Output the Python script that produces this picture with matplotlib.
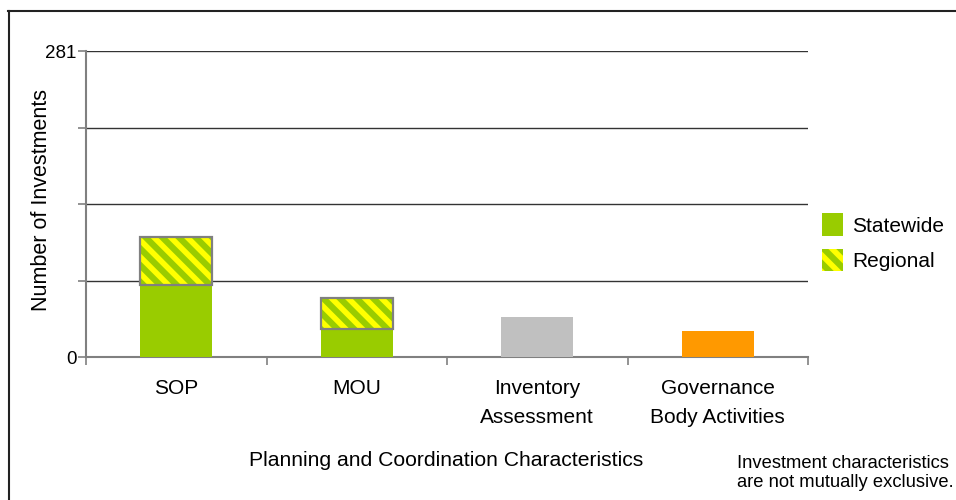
import matplotlib
matplotlib.use("Agg")
import matplotlib.pyplot as plt
from matplotlib.patches import Patch
from matplotlib.lines import Line2D
import numpy as np

plt.rcParams['font.family'] = ['Liberation Sans', 'DejaVu Sans']
plt.rcParams['hatch.linewidth'] = 4.0

categories = ["SOP", "MOU", "Inventory\nAssessment", "Governance\nBody Activities"]
base_values = [66, 26, 37, 24]          # Statewide for SOP/MOU; single totals for others
regional = [44, 28, 0, 0]
base_colors = ["#99CC00", "#99CC00", "#C0C0C0", "#FF9900"]
y_max = 281
y_ticklabels = ["0", "", "", "", "281"]
series_names = ["Statewide", "Regional"]

GREEN = "#99CC00"
YELLOW = "#FFFF00"
HATCH = '\\\\'

fig = plt.figure(figsize=(9.56, 5.0), dpi=100)
ax = fig.add_axes([86/956, 1-357/500, (808-86)/956, (357-51)/500])

x = np.arange(len(categories))
w = 0.4
ax.bar(x, base_values, width=w, color=base_colors, linewidth=0, zorder=3)
reg = np.array(regional, dtype=float)
mask = reg > 0
ax.bar(x[mask], reg[mask], width=w, bottom=np.array(base_values)[mask],
       color=GREEN, edgecolor=YELLOW, hatch=HATCH, linewidth=0, zorder=3)
ax.bar(x[mask], reg[mask], width=w, bottom=np.array(base_values)[mask],
       fill=False, edgecolor="#808080", linewidth=1.6, zorder=4)

ax.set_xlim(-0.5, len(categories) - 0.5)
ax.set_ylim(0, y_max)
yt = np.linspace(0, y_max, 5)
ax.set_yticks(yt)
ax.set_yticklabels(y_ticklabels, fontsize=13.5)
for v in yt[1:]:
    ax.axhline(v, color="#333333", linewidth=1.0, zorder=1)

ax.set_xticks(x)
ax.set_xticklabels(categories, fontsize=15, linespacing=1.65)
ax.set_xticks(np.arange(-0.5, len(categories)), minor=True)
ax.tick_params(axis='x', which='major', length=0, pad=16)
ax.tick_params(axis='x', which='minor', length=6, width=1.2, color="#808080", direction='out')
ax.tick_params(axis='y', length=6, width=1.2, color="#808080", pad=1, direction='out')

for s in ['top', 'right']:
    ax.spines[s].set_visible(False)
for s in ['left', 'bottom']:
    ax.spines[s].set_color("#808080")
    ax.spines[s].set_linewidth(1.5)

fig.text(42/956, 1-200/500, "Number of Investments", rotation=90, ha='center', va='center', fontsize=15.5)
fig.text(446/956, 1-461/500, "Planning and Coordination Characteristics", ha='center', va='center', fontsize=15.2)
fig.text(737/956, 1-473/500, "Investment characteristics\nare not mutually exclusive.", ha='left', va='center', fontsize=13.2, linespacing=1.2)

handles = [Patch(facecolor=GREEN, edgecolor=GREEN, linewidth=0),
           Patch(facecolor=GREEN, edgecolor=YELLOW, hatch=HATCH, linewidth=0)]
fig.legend(handles, series_names, loc='upper left', bbox_to_anchor=(814/956, 1-205/500),
           frameon=False, fontsize=15, handlelength=1.0, handleheight=1.3,
           handletextpad=0.45, labelspacing=0.6, borderaxespad=0)

fig.add_artist(Line2D([8.5/956, 8.5/956], [0, 1-11/500], color="#222222", linewidth=1.5))
fig.add_artist(Line2D([8/956, 1], [1-11/500, 1-11/500], color="#222222", linewidth=1.5))

fig.savefig("out.png", dpi=100)
